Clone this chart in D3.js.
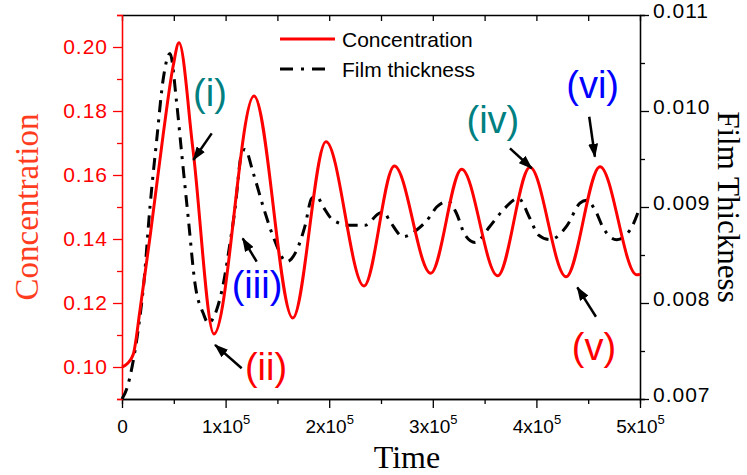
<!DOCTYPE html>
<html>
<head>
<meta charset="utf-8">
<script src="https://cdn.jsdelivr.net/npm/d3@7"></script>
<style>
  body { margin: 0; background: #fff; }
  svg { display: block; }
</style>
</head>
<body>
<div id="plot"></div>
<script>
// values
var timeConc = [0, 5000, 10900, 17400, 28000, 39900, 49300, 55000, 68500, 88800, 127400, 164800,
                196900, 233600, 262900, 298000, 327900, 362600, 393800, 428600, 461400, 496800, 500000];
var concVals = [0.100, 0.1010, 0.1040, 0.1178, 0.143, 0.173, 0.1939, 0.2013, 0.168, 0.1103, 0.1847, 0.1153,
                0.1704, 0.1253, 0.1628, 0.1293, 0.1618, 0.1285, 0.1624, 0.1282, 0.1626, 0.1288, 0.1290];

var timeFilm = [0, 5000, 10000, 16000, 21000, 27000, 33500, 40000, 46300, 52800, 57600, 64000, 70500, 78500,
                83300, 91400, 97800, 104200, 109000, 115500, 118700, 126800, 136400, 146000, 159000, 168600,
                176600, 183100, 188000, 194300, 204000, 220000, 234600, 247500, 252300, 258700, 271500, 284400,
                297300, 303700, 315000, 323000, 331000, 340700, 355200, 368000, 382500, 393800, 401800, 413100,
                429200, 442000, 448500, 456600, 464600, 477500, 490400, 500000];
var filmVals = [0.0070, 0.00712, 0.00735, 0.00775, 0.0082, 0.0090, 0.0097, 0.01035, 0.0106, 0.01008, 0.00956,
                0.00888, 0.0082, 0.00789, 0.00779, 0.00793, 0.0082, 0.00862, 0.00897, 0.00956, 0.0096, 0.00935,
                0.0090, 0.00869, 0.00843, 0.00855, 0.0088, 0.00909, 0.00911, 0.0090, 0.00886, 0.00881, 0.00881,
                0.00893, 0.00895, 0.00885, 0.00869, 0.00876, 0.0089, 0.0090, 0.00906, 0.00893, 0.00871, 0.00863,
                0.0088, 0.00897, 0.00909, 0.00888, 0.00871, 0.00866, 0.0088, 0.00904, 0.00907, 0.00897, 0.00878,
                0.00866, 0.00876, 0.0090];

var xTicks = [0, 100000, 200000, 300000, 400000, 500000];
var xTickLabels = ["0", "1x10", "2x10", "3x10", "4x10", "5x10"];
var xMinor = [50000, 150000, 250000, 350000, 450000];
var concTicks = [0.10, 0.12, 0.14, 0.16, 0.18, 0.20];
var concMinor = [0.09, 0.11, 0.13, 0.15, 0.17, 0.19, 0.21];
var filmTicks = [0.007, 0.008, 0.009, 0.010, 0.011];
var filmMinor = [0.0075, 0.0085, 0.0095, 0.0105];

// labels (i)..(vi): text anchor and arrow, in data units (time, concentration)
var noteText   = ["(i)", "(ii)", "(iii)", "(iv)", "(v)", "(vi)"];
var noteColor  = ["#008080", "#ff0000", "#0000ff", "#008080", "#ff0000", "#0000ff"];
var noteTime   = [84900, 139000, 130300, 358000, 455600, 454300];
var noteConc   = [0.1817, 0.0959, 0.1216, 0.1731, 0.1022, 0.1841];
var arrowFrom  = [[86600, 0.1730], [115500, 0.0996], [130000, 0.1329], [374500, 0.1683], [457500, 0.1157], [451000, 0.1782]];
var arrowTo    = [[68900, 0.1647], [89800, 0.1069], [116500, 0.1402], [395500, 0.1621], [439500, 0.1249], [456500, 0.1657]];

var width = 747, height = 475;
var plotL = 122, plotR = 640, plotT = 15, plotB = 399;

var svg = d3.select("#plot").append("svg")
    .attr("width", width)
    .attr("height", height);

var x = d3.scaleLinear().domain([0, 500000]).range([plotL, plotR]);
var yC = d3.scaleLinear().domain([0.09, 0.21]).range([plotB, plotT]);
var yF = d3.scaleLinear().domain([0.007, 0.011]).range([plotB, plotT]);

// bottom axis
var gx = svg.append("g").attr("transform", "translate(0," + plotB + ")")
    .call(d3.axisBottom(x).tickValues(xTicks).tickSize(9).tickSizeOuter(0).tickFormat(""));
gx.append("g").call(d3.axisBottom(x).tickValues(xMinor).tickSize(5).tickFormat(""));
gx.selectAll(".tick text").remove();
gx.selectAll(".tick").filter(function(d) { return xTicks.indexOf(d) >= 0; })
  .append("text")
    .attr("y", 34)
    .attr("text-anchor", "middle")
    .style("font-family", "Arial, 'Liberation Sans', sans-serif")
    .style("font-size", "19px")
    .attr("fill", "#000")
    .each(function(d, i) {
        var t = d3.select(this);
        t.append("tspan").text(xTickLabels[i]);
        if (d > 0) t.append("tspan").attr("dy", -9).style("font-size", "13px").text("5");
    });

// top axis, ticks inside
svg.append("g").attr("transform", "translate(0," + plotT + ")")
    .call(d3.axisBottom(x).tickValues(xTicks.concat(xMinor)).tickSize(6).tickSizeOuter(0).tickFormat(""));

// left axis (red)
var gl = svg.append("g").attr("transform", "translate(" + plotL + ",0)")
    .call(d3.axisLeft(yC).tickValues(concTicks).tickSize(9).tickSizeOuter(0).tickPadding(5).tickFormat(d3.format(".2f")));
gl.append("g").call(d3.axisLeft(yC).tickValues(concMinor).tickSize(5).tickFormat(""));
gl.selectAll("path, line").attr("stroke", "#ff0000");
gl.selectAll("text").attr("fill", "#ff0000")
    .style("font-family", "Arial, 'Liberation Sans', sans-serif")
    .style("font-size", "21px")
    .style("letter-spacing", "1px");

// right axis
var gr = svg.append("g").attr("transform", "translate(" + plotR + ",0)")
    .call(d3.axisRight(yF).tickValues(filmTicks).tickSize(9).tickSizeOuter(0).tickPadding(4).tickFormat(d3.format(".3f")));
gr.append("g").call(d3.axisRight(yF).tickValues(filmMinor).tickSize(5).tickFormat(""));
gr.selectAll("text")
    .attr("dy", "0.12em")
    .style("font-family", "Arial, 'Liberation Sans', sans-serif")
    .style("font-size", "21px")
    .style("letter-spacing", "1px");

svg.selectAll(".domain").attr("stroke-width", 1.3);
svg.selectAll(".tick line").attr("stroke-width", 1.3);

// curves
var lineC = d3.line()
    .x(function(d) { return x(d[0]); })
    .y(function(d) { return yC(d[1]); })
    .curve(d3.curveMonotoneX);
var lineF = d3.line()
    .x(function(d) { return x(d[0]); })
    .y(function(d) { return yF(d[1]); })
    .curve(d3.curveMonotoneX);

svg.append("path")
    .datum(d3.zip(timeFilm, filmVals))
    .attr("d", lineF)
    .attr("fill", "none")
    .attr("stroke", "#000")
    .attr("stroke-width", 3)
    .attr("stroke-dasharray", "12,7,3,7");

svg.append("path")
    .datum(d3.zip(timeConc, concVals))
    .attr("d", lineC)
    .attr("fill", "none")
    .attr("stroke", "#ff0000")
    .attr("stroke-width", 3);

// axis titles
svg.append("text")
    .attr("transform", "translate(38," + ((plotT + plotB) / 2) + ") rotate(-90)")
    .attr("text-anchor", "middle")
    .style("font-family", "'Times New Roman', 'Liberation Serif', serif")
    .style("font-size", "33px")
    .attr("fill", "#ff3c1e")
    .text("Concentration");

svg.append("text")
    .attr("transform", "translate(718," + ((plotT + plotB) / 2) + ") rotate(90)")
    .attr("text-anchor", "middle")
    .style("font-family", "'Times New Roman', 'Liberation Serif', serif")
    .style("font-size", "31px")
    .attr("fill", "#000")
    .text("Film Thickness");

svg.append("text")
    .attr("x", (plotL + plotR) / 2 + 26)
    .attr("y", 468)
    .attr("text-anchor", "middle")
    .style("font-family", "'Times New Roman', 'Liberation Serif', serif")
    .style("font-size", "32px")
    .attr("fill", "#000")
    .text("Time");

// legend
var legend = svg.append("g");
legend.append("line").attr("x1", 280).attr("x2", 335).attr("y1", 39).attr("y2", 39)
    .attr("stroke", "#ff0000").attr("stroke-width", 3);
legend.append("line").attr("x1", 280).attr("x2", 331).attr("y1", 69).attr("y2", 69)
    .attr("stroke", "#000").attr("stroke-width", 3).attr("stroke-dasharray", "13,8,3,8");
legend.append("text").attr("x", 342).attr("y", 47).text("Concentration");
legend.append("text").attr("x", 342).attr("y", 77).text("Film thickness");
legend.selectAll("text")
    .style("font-family", "Arial, 'Liberation Sans', sans-serif")
    .style("font-size", "21px");

// arrows
svg.append("defs").append("marker")
    .attr("id", "head")
    .attr("markerUnits", "userSpaceOnUse")
    .attr("viewBox", "0 0 14 10")
    .attr("refX", 13).attr("refY", 5)
    .attr("markerWidth", 14).attr("markerHeight", 10)
    .attr("orient", "auto")
  .append("path")
    .attr("d", "M0,0 L14,5 L0,10 Z")
    .attr("fill", "#000");

svg.selectAll(".arrow")
    .data(d3.range(noteText.length))
    .enter().append("line")
    .attr("class", "arrow")
    .attr("x1", function(i) { return x(arrowFrom[i][0]); })
    .attr("y1", function(i) { return yC(arrowFrom[i][1]); })
    .attr("x2", function(i) { return x(arrowTo[i][0]); })
    .attr("y2", function(i) { return yC(arrowTo[i][1]); })
    .attr("stroke", "#000")
    .attr("stroke-width", 2.5)
    .attr("marker-end", "url(#head)");

svg.selectAll(".note")
    .data(d3.range(noteText.length))
    .enter().append("text")
    .attr("class", "note")
    .attr("x", function(i) { return x(noteTime[i]); })
    .attr("y", function(i) { return yC(noteConc[i]); })
    .attr("text-anchor", "middle")
    .style("font-family", "Arial, 'Liberation Sans', sans-serif")
    .style("font-size", "38px")
    .attr("fill", function(i) { return noteColor[i]; })
    .text(function(i) { return noteText[i]; });
</script>
</body>
</html>
